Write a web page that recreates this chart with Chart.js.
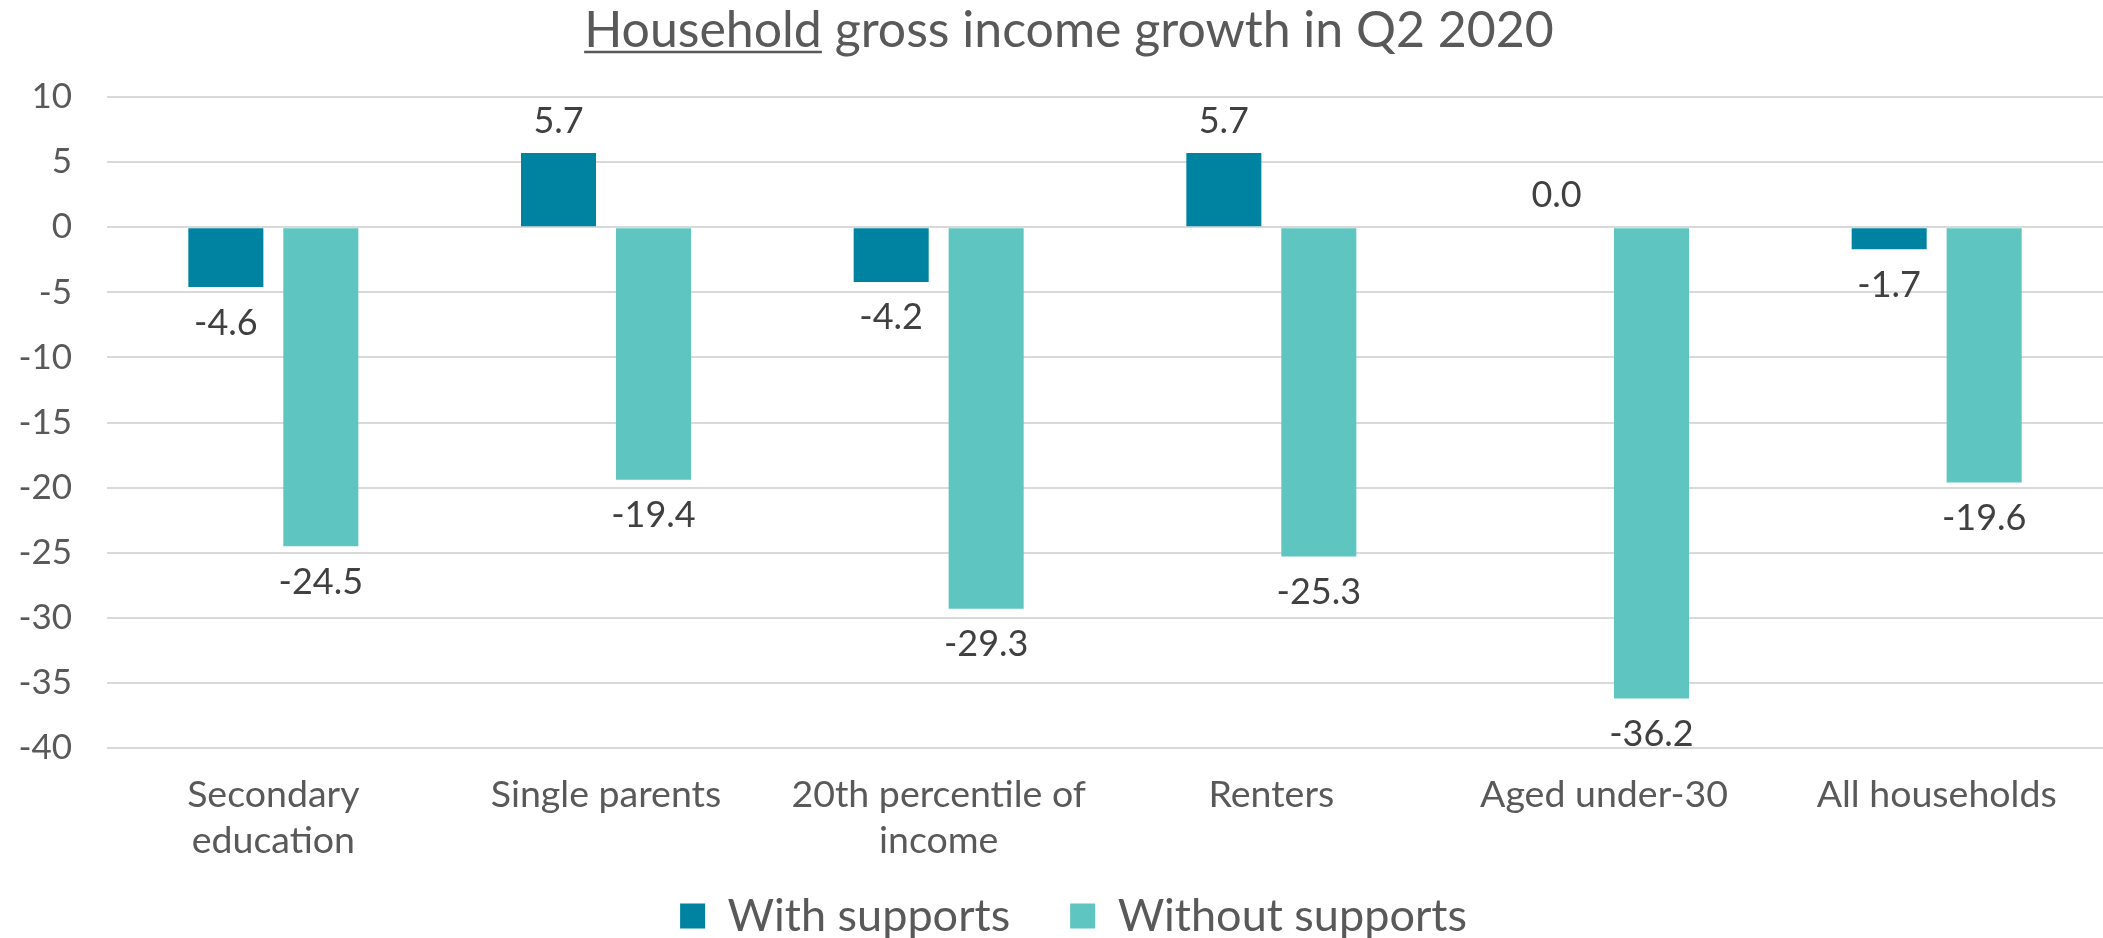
<!DOCTYPE html>
<html>
<head>
<meta charset="utf-8">
<script src="https://cdn.jsdelivr.net/npm/chart.js@4/dist/chart.umd.min.js"></script>
<style>
  html, body { margin: 0; padding: 0; background: #ffffff; }
  #wrap { width: 2103px; height: 938px; }
</style>
</head>
<body>
<div id="wrap"><canvas id="chart" width="2103" height="938"></canvas></div>
<script>
// Household groups on the category axis
const categories = [
  ["Secondary", "education"],
  "Single parents",
  ["20th percentile of", "income"],
  "Renters",
  "Aged under-30",
  "All households"
];

// Gross income growth, Q2 2020 (%)
const withSupports    = [-4.6, 5.7, -4.2, 5.7, 0.0, -1.7];
const withoutSupports = [-24.5, -19.4, -29.3, -25.3, -36.2, -19.6];

const seriesNames = ["With supports", "Without supports"];
const yTicks = { min: -40, max: 10, step: 5 };

const titleLead = "Household";
const titleRest = " gross income growth in Q2 2020";

const FONT = "Lato, 'Open Sans', sans-serif";
const GREY = "#595959";

// Value labels above positive bars and below negative ones
const valueLabels = {
  id: "valueLabels",
  afterDatasetsDraw(chart) {
    const ctx = chart.ctx;
    ctx.save();
    ctx.font = "36px " + FONT;
    ctx.fillStyle = "#404040";
    ctx.textAlign = "center";
    ctx.textBaseline = "middle";
    chart.data.datasets.forEach((ds, di) => {
      const meta = chart.getDatasetMeta(di);
      meta.data.forEach((bar, i) => {
        const v = ds.data[i];
        const y = v < 0 ? bar.y + 36 : bar.y - 32;
        ctx.fillText(v.toFixed(1), bar.x, y);
      });
    });
    ctx.restore();
  }
};

// Chart heading with the first word underlined
const heading = {
  id: "heading",
  afterDraw(chart) {
    const ctx = chart.ctx;
    const size = 50;
    const cx = 1069, mid = 31;
    ctx.save();
    ctx.font = size + "px " + FONT;
    ctx.fillStyle = GREY;
    ctx.textAlign = "left";
    ctx.textBaseline = "middle";
    const full = ctx.measureText(titleLead + titleRest).width;
    const lead = ctx.measureText(titleLead).width;
    const x0 = cx - full / 2;
    ctx.fillText(titleLead, x0, mid);
    ctx.fillText(titleRest, x0 + lead, mid);
    ctx.strokeStyle = GREY;
    ctx.lineWidth = 2.5;
    ctx.beginPath();
    ctx.moveTo(x0, mid + size * 0.42);
    ctx.lineTo(x0 + lead, mid + size * 0.42);
    ctx.stroke();
    ctx.restore();
  }
};

// Place the legend row: centred under the heading, text centred at y = 916
const LEGEND_PAD = 60, LEGEND_FONT = 45, LEGEND_MID = 916;
const legendPlace = {
  id: "legendPlace",
  afterLayout(chart) {
    const lg = chart.legend;
    if (!lg) return;
    lg.left += 22;
    lg.right += 22;
    lg.top = LEGEND_MID - LEGEND_PAD - LEGEND_FONT / 2;
    lg.bottom = chart.height;
  }
};

new Chart(document.getElementById("chart"), {
  type: "bar",
  data: {
    labels: categories,
    datasets: [
      {
        label: seriesNames[0],
        data: withSupports,
        backgroundColor: "#0083A0",
        categoryPercentage: 0.571,
        barPercentage: 0.79
      },
      {
        label: seriesNames[1],
        data: withoutSupports,
        backgroundColor: "#5FC5C0",
        categoryPercentage: 0.571,
        barPercentage: 0.79
      }
    ]
  },
  options: {
    responsive: false,
    animation: false,
    devicePixelRatio: 1,
    layout: { padding: { left: 0, right: 0, top: 97, bottom: 0 } },
    plugins: {
      title: { display: false },
      legend: {
        position: "bottom",
        maxHeight: 73,
        labels: {
          color: GREY,
          font: { family: FONT, size: LEGEND_FONT },
          boxWidth: 25,
          boxHeight: 25,
          padding: LEGEND_PAD
        }
      },
      tooltip: { enabled: false }
    },
    scales: {
      x: {
        grid: { display: false, drawTicks: false },
        border: { display: false },
        afterFit(scale) { scale.height = 117; },
        ticks: {
          color: GREY,
          font: { family: FONT, size: 37.5, lineHeight: 1.25 },
          maxRotation: 0,
          autoSkip: false,
          padding: 23
        }
      },
      y: {
        min: yTicks.min,
        max: yTicks.max,
        border: { display: false },
        afterFit(scale) { scale.width = 107; },
        grid: { color: "#D9D9D9", lineWidth: 2, drawTicks: false },
        ticks: {
          stepSize: yTicks.step,
          color: GREY,
          font: { family: FONT, size: 35 },
          padding: 35
        }
      }
    }
  },
  plugins: [valueLabels, heading, legendPlace]
});
</script>
</body>
</html>
